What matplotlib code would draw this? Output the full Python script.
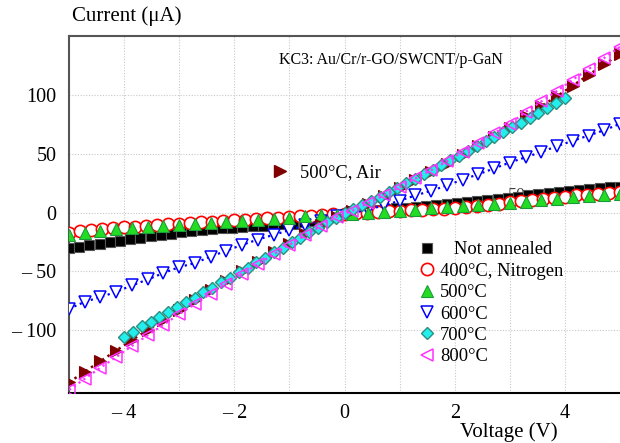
import numpy as np
import matplotlib
matplotlib.use("Agg")
import matplotlib.pyplot as plt
from matplotlib.lines import Line2D

plt.rcParams['font.family'] = ['Liberation Serif', 'DejaVu Serif']

# ---------------- data ----------------
v_black = np.linspace(-5, 5, 55)
i_black = [-30.5, -29.3, -28.0, -26.6, -25.3, -24.0, -22.7, -21.4, -20.1, -19.0,
           -17.9, -16.8, -15.9, -15.0, -14.2, -13.5, -12.9, -12.3, -11.8, -11.2,
           -10.7, -10.2, -9.5, -8.4, -7.0, -5.3, -3.2, -1.0, 0.4, 1.3,
           2.1, 2.8, 3.5, 4.2, 4.9, 5.6, 6.3, 7.0, 7.8, 8.7,
           9.6, 10.5, 11.5, 12.5, 13.6, 14.7, 15.8, 16.8, 17.7, 18.5,
           19.3, 20.0, 20.7, 21.3, 22.0]

v_red = np.linspace(-5, 5, 51)
i_red = [-17.5, -16.0, -15.0, -14.2, -13.4, -12.6, -12.0, -11.4, -10.8, -10.2,
         -9.6, -9.0, -8.4, -7.8, -7.2, -6.6, -6.0, -5.4, -4.9, -4.3,
         -3.7, -3.1, -2.6, -2.0, -1.5, -1.0, -0.5, 0.0, 0.5, 0.9,
         1.3, 1.8, 2.2, 2.8, 3.4, 4.1, 4.9, 5.8, 6.7, 7.6,
         8.6, 9.6, 10.6, 11.6, 12.6, 13.6, 14.5, 15.3, 16.1, 16.8, 17.5]

v_36 = np.linspace(-5, 5, 36)
i_green = [-19.5, -17.5, -15.6, -14.2, -13.0, -12.0, -11.2, -10.4, -9.8, -9.0,
           -8.1, -7.1, -6.2, -5.3, -4.3, -3.4, -2.5, -1.8, -1.2, -0.4,
           0.5, 1.5, 2.5, 3.5, 4.5, 5.3, 6.0, 7.0, 8.2, 9.3,
           10.4, 11.6, 12.8, 14.0, 15.0, 16.0]
i_blue = [-82.0, -76.0, -72.0, -67.5, -62.0, -57.0, -51.5, -46.5, -43.0, -37.5,
          -32.5, -27.5, -23.0, -19.0, -15.0, -11.0, -7.0, -3.0, -0.5, 2.5,
          6.0, 10.0, 14.5, 18.5, 23.0, 28.0, 32.5, 37.5, 42.5, 47.0,
          51.5, 56.5, 61.0, 65.5, 70.0, 75.5]
i_air = [-144.5, -135.5, -126.5, -117.5, -108.5, -100.0, -91.5, -83.0, -74.5, -66.0,
         -58.0, -50.0, -42.0, -34.0, -26.5, -18.5, -11.0, -3.5, 1.5, 7.5,
         14.0, 20.5, 27.5, 34.5, 41.5, 49.0, 56.5, 64.0, 72.0, 82.0,
         90.5, 99.0, 108.0, 117.0, 126.0, 135.0]
i_800 = [-151.0, -141.5, -132.0, -123.0, -113.5, -104.5, -95.5, -86.5, -78.0, -69.0,
         -60.5, -52.0, -44.0, -35.5, -27.5, -19.5, -11.5, -3.5, 1.5, 8.0,
         14.5, 21.5, 29.0, 36.0, 43.5, 51.5, 59.5, 67.5, 75.5, 85.5,
         94.5, 103.5, 113.0, 122.0, 131.5, 141.0]

v_cyan = np.linspace(-4, 4, 51)
i_cyan = [-106.0, -101.5, -97.0, -93.0, -89.0, -85.0, -80.5, -76.5, -72.5, -68.0,
          -64.0, -59.5, -55.5, -51.0, -47.0, -42.5, -38.5, -34.0, -30.0, -25.5,
          -21.5, -17.0, -13.0, -8.5, -4.5, -0.5, 3.0, 6.5, 10.0, 13.5,
          17.5, 21.0, 25.0, 28.5, 32.5, 36.5, 40.5, 44.5, 48.5, 52.5,
          56.5, 60.5, 64.5, 68.5, 72.5, 76.5, 80.5, 85.0, 89.0, 93.5, 97.5]

labels = ["   Not annealed", "400°C, Nitrogen", "500°C", "600°C", "700°C", "800°C"]
air_label = "500°C, Air"
x_ticks = [-4, -2, 0, 2, 4]
x_ticklabels = ["– 4", "– 2", "0", "2", "4"]
y_ticks = [-100, -50, 0, 50, 100]
y_ticklabels = ["– 100", "– 50", "0", "50", "100"]

# ---------------- figure ----------------
fig = plt.figure(figsize=(6.2, 4.43), dpi=100)
ax = fig.add_axes([69/620, 1 - 393/443, 1 - 69/620, (393 - 36)/443])

ax.set_xlim(-5, 4.964)
ax.set_ylim(-153.6, 150.2)

# text hidden behind data
ax.text(3.13, 14, "50", fontsize=13, color='#444444', ha='center', va='center', zorder=1)

h_black, = ax.plot(v_black, i_black, linestyle='none', marker='s', ms=7.2,
                   mfc='black', mec='#555555', mew=0.8, zorder=3)
h_red, = ax.plot(v_red, i_red, linestyle='none', marker='o', ms=8.8,
                 mfc='white', mec='#ff0000', mew=1.2, zorder=4)
h_green, = ax.plot(v_36, i_green, linestyle='none', marker='^', ms=8.5,
                   mfc='#22dd22', mec='#1a9a3a', mew=0.8, zorder=5)
h_blue, = ax.plot(v_36, i_blue, linestyle=':', color='#0000ff', lw=1.6, marker='v', ms=8.5,
                  mfc='white', mec='#0000ff', mew=1.1, zorder=4)
h_air, = ax.plot(v_36, i_air, linestyle=':', color='#800000', lw=1.8, marker='>', ms=9,
                 mfc='#800000', mec='#800000', mew=0.8, zorder=5)
h_cyan, = ax.plot(v_cyan, i_cyan, linestyle='none', marker='D', ms=6.5,
                  mfc='#22eeee', mec='#2a8f80', mew=1.0, zorder=6)
h_800, = ax.plot(v_36, i_800, linestyle=':', color='#ff33ff', lw=1.6, marker='<', ms=8.5,
                 mfc='none', mec='#ff33ff', mew=1.1, zorder=6)

# ticks & grid
ax.set_xticks(x_ticks)
ax.set_xticklabels(x_ticklabels)
ax.set_xticks(np.arange(-5, 5.01, 1), minor=True)
ax.set_yticks(y_ticks)
ax.set_yticklabels(y_ticklabels)
ax.grid(True, which='both', color='#c8c8c8', linestyle=(0, (1, 1.5)), linewidth=0.8)
ax.set_axisbelow(True)
ax.tick_params(axis='both', which='both', length=0, labelsize=14.5)
ax.tick_params(axis='x', pad=8)
ax.tick_params(axis='y', pad=9)

for s in ['left', 'top']:
    ax.spines[s].set_color('#555555')
    ax.spines[s].set_linewidth(1.5)
ax.spines['bottom'].set_color('black')
ax.spines['bottom'].set_linewidth(1.5)
ax.spines['right'].set_visible(False)

# legends
handles = [Line2D([], [], linestyle='none', marker=h.get_marker(), ms=h.get_markersize(),
                  mfc=h.get_markerfacecolor(), mec=h.get_markeredgecolor(),
                  mew=h.get_markeredgewidth())
           for h in [h_black, h_red, h_green, h_blue, h_cyan, h_800]]
leg = ax.legend(handles, labels, loc='upper left', bbox_to_anchor=(0.617, 0.451),
                frameon=False, fontsize=13.3, handlelength=1.0, handletextpad=0.18,
                labelspacing=0.24, borderpad=0.0)
ax.add_artist(leg)
air_handle = Line2D([], [], linestyle='none', marker='>', ms=9, mfc='#800000', mec='#800000')
ax.legend([air_handle], [air_label], loc='upper left', bbox_to_anchor=(0.349, 0.667),
          frameon=False, fontsize=13.3, handlelength=1.0, handletextpad=0.6, borderpad=0.0)

ax.text(0.584, 0.933, "KC3: Au/Cr/r-GO/SWCNT/p-GaN", transform=ax.transAxes,
        fontsize=11.5, ha='center', va='center')

fig.text(72/620, 1 - 16/443, "Current (μA)", fontsize=15, ha='left', va='center')
fig.text(509/620, 1 - 432/443, "Voltage (V)", fontsize=15, ha='center', va='center')

fig.savefig("out.png", dpi=100)
